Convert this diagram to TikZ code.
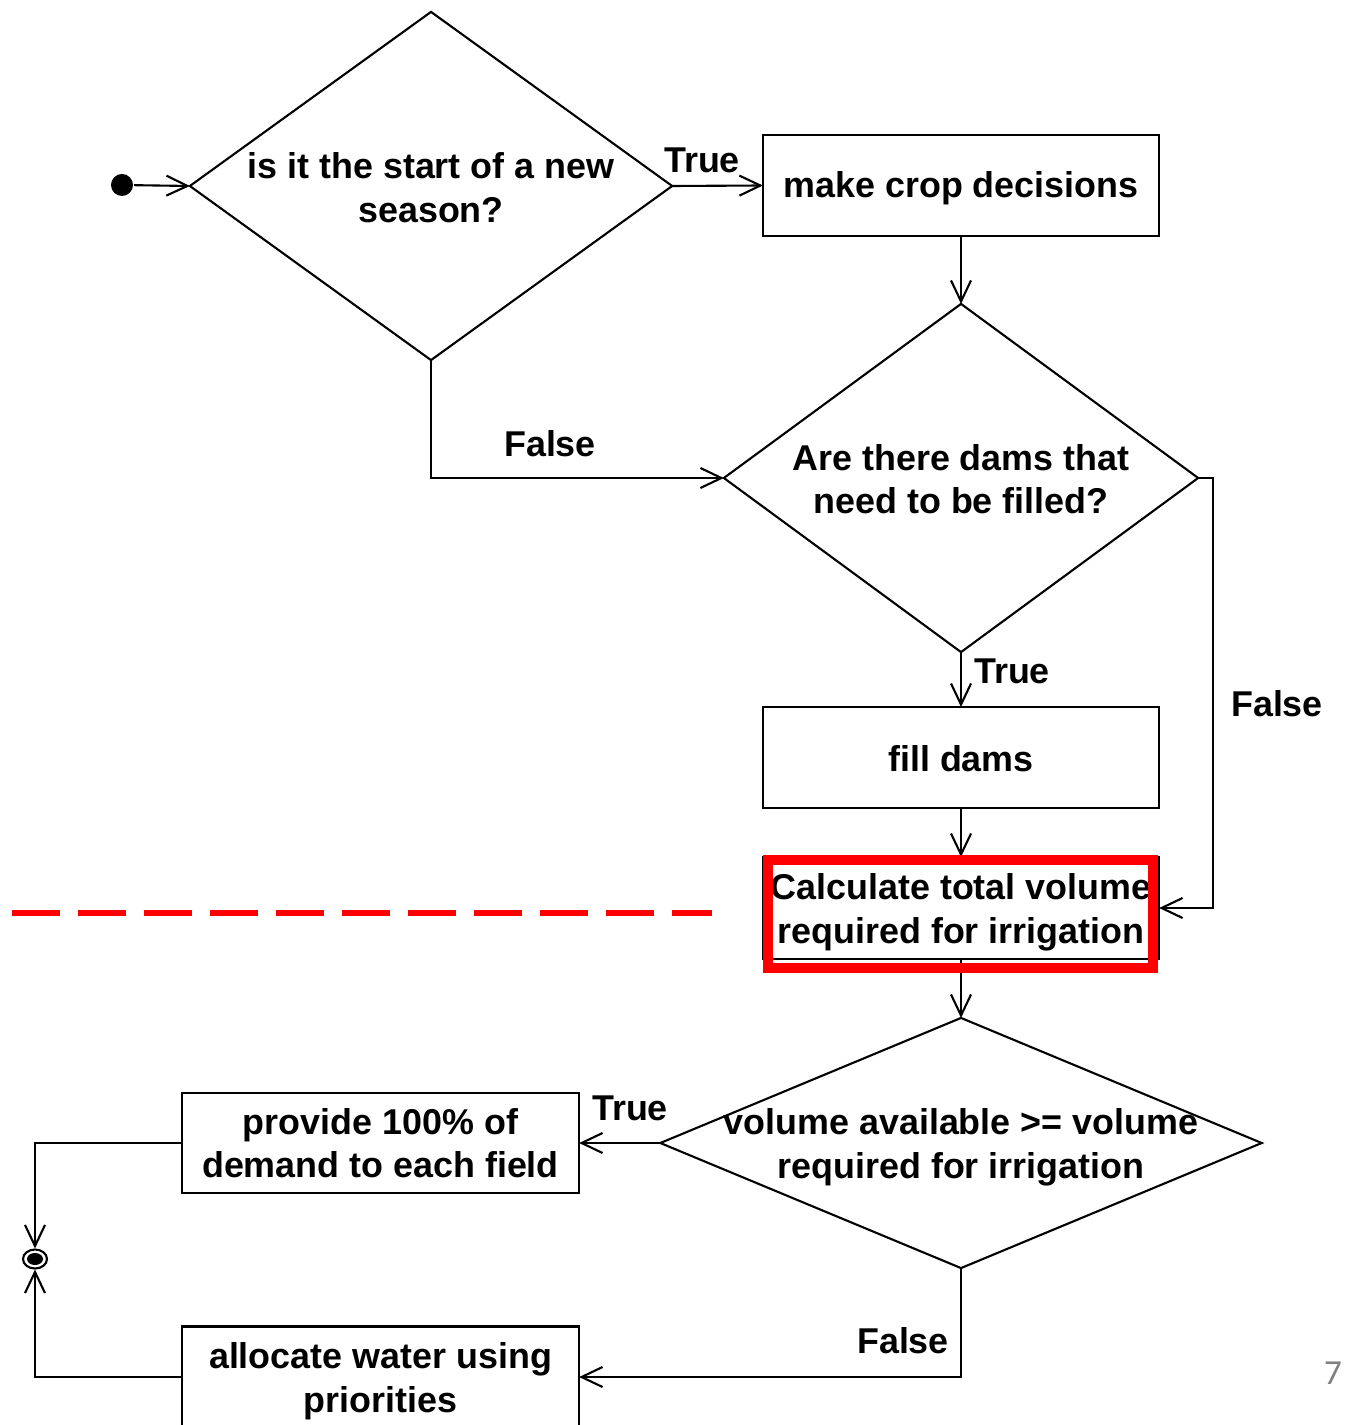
\documentclass[tikz,border=0pt]{standalone}
\usepackage{fontspec}
\setmainfont{Liberation Sans}
\newfontfamily\pagefont{Carlito}
\usepackage{tikz}
\usetikzlibrary{arrows,arrows.meta,shapes.geometric}
\usetikzlibrary{positioning}

\begin{document}
\begin{tikzpicture}[x=0.01cm,y=-0.01cm,line width=0.6pt,
  >={Straight Barb[length=2.1mm,width=2mm]},
  every node/.style={font=\fontsize{10.2}{12.4}\selectfont\bfseries},
  box/.style={draw,rectangle,minimum width=3.96cm,minimum height=1.01cm,inner sep=0pt,outer sep=0pt},
  decision/.style={draw,diamond,inner sep=0pt,outer sep=0pt},
  txt/.style={align=center,inner sep=0pt}]
\useasboundingbox (0,0) rectangle (1345,1425);
\node at(122,185)[circle,fill,minimum size=0.22cm,inner sep=0pt](start){};
\node at(431,186)[decision,minimum width=4.82cm,minimum height=3.48cm](season){};
\node at(431,187.5)[txt]{is it the start of a new\\season?};
\node at(961,185.5)[box](crop){};
\node at(961,188.5)[txt]{make crop decisions};
\node at(961,478)[decision,minimum width=4.74cm,minimum height=3.48cm](dams){};
\node at(961,479)[txt]{Are there dams that\\need to be filled?};
\node at(961,757.5)[box](fill){};
\node at(961,758.5)[txt]{fill dams};
\node at(961,908)[box,minimum height=1.02cm](calc){};
\node at(961,912)[txt]{Calculate total volume\\required for irrigation};
\node at(961,1143)[decision,minimum width=6.01cm,minimum height=2.5cm](enough){};
\node at(961,1147.5)[txt]{volume available >= volume\\required for irrigation};
\node at(380.5,1143)[box,minimum width=3.97cm,minimum height=1cm](full){};
\node at(380.5,1143)[txt]{provide 100\% of\\demand to each field};
\node at(380.5,1377)[box,minimum width=3.97cm](alloc){};
\node at(380.5,1381)[txt]{allocate water using\\priorities};
\node at(35,1259)[draw,ellipse,minimum width=0.24cm,minimum height=0.19cm,inner sep=0pt](stop){};
\fill (stop) ellipse (8 and 6);
\coordinate (bend) at (1213,478);

\node at(702,160)(t1){True};
\node at(550,444)(f1){False};
\node at(1012,671)(t2){True};
\node at(1277,704)(f2){False};
\node at(630,1108)(t3){True};
\node at(903,1341)(f3){False};

\draw[->] (start) -- (season.west);
\draw[->] (season.east) -- (crop.west);
\draw[->] (crop) -- (dams.north);
\draw[->] (season.south) |- (dams.west);
\draw[->] (dams.south) -- (fill.north);
\draw[->] (fill) -- (calc);
\draw[->] (dams.east) -- (bend) |- (calc.east);
\draw[->] (calc) -- (enough.north);
\draw[->] (enough.west) -- (full.east);
\draw[->] (enough.south) |- (alloc.east);
\draw[->] (full.west) -| (stop.north);
\draw[->] (alloc.west) -| (stop.south);

\draw[red,line width=1mm] (767.5,860) rectangle (1152.5,967.5);
\draw[red,line width=0.6mm,dash pattern=on 4.8mm off 1.8mm] (12,913) -- (712,913);
\node at(1333,1373)[font=\pagefont\fontsize{10}{12}\selectfont,text=gray](page){7};
\end{tikzpicture}
\end{document}
